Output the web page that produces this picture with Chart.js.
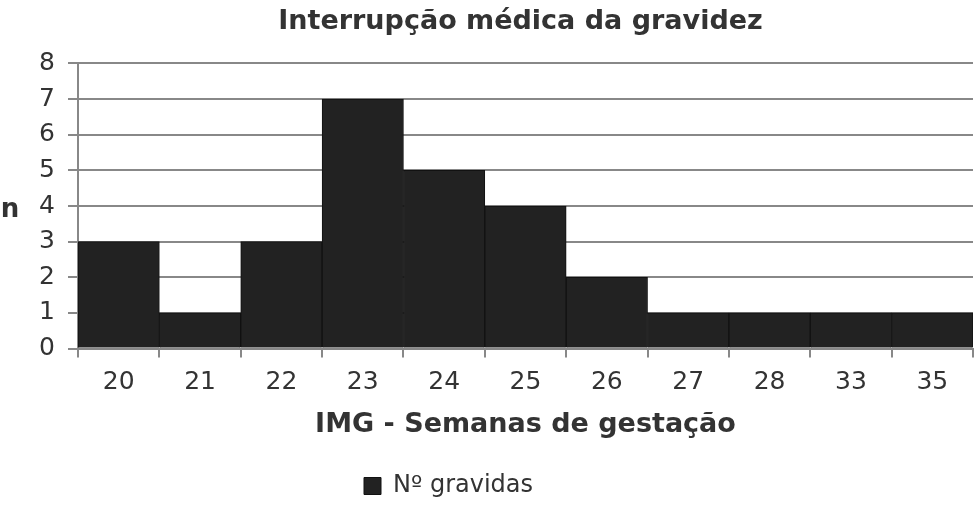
<!DOCTYPE html>
<html>
<head>
<meta charset="utf-8">
<script src="https://cdn.jsdelivr.net/npm/chart.js@4.4.0/dist/chart.umd.min.js"></script>
<style>
  html, body { margin: 0; padding: 0; background: #fff; }
  #wrap { width: 975px; height: 508px; }
</style>
</head>
<body>
<div id="wrap"><canvas id="chart"></canvas></div>
<script>
// Dados
const semanas = ['20', '21', '22', '23', '24', '25', '26', '27', '28', '33', '35'];
const gravidas = [3, 1, 3, 7, 5, 4, 2, 1, 1, 1, 1];
const yTicks = [0, 1, 2, 3, 4, 5, 6, 7, 8];

const FONT = '"DejaVu Sans", Verdana, sans-serif';

// título centrado sobre a área do gráfico, legenda deslocada, "n" na horizontal
const extras = {
  id: 'extras',
  afterLayout(chart) {
    const tb = chart.titleBlock;
    tb.left += 34;
    tb.right += 34;
    const lg = chart.legend;
    const w = lg.right - lg.left;
    lg.left = 359;
    lg.right = 359 + w;
  },
  afterDraw(chart) {
    const ctx = chart.ctx;
    const area = chart.chartArea;
    ctx.save();
    ctx.fillStyle = '#333';
    ctx.font = 'bold 26px ' + FONT;
    ctx.textAlign = 'center';
    ctx.textBaseline = 'middle';
    ctx.fillText('n', 10, (area.top + area.bottom) / 2 + 4);
    ctx.restore();
  }
};

new Chart(document.getElementById('chart').getContext('2d'), {
  type: 'bar',
  data: {
    labels: semanas,
    datasets: [{
      label: 'Nº gravidas',
      data: gravidas,
      backgroundColor: '#222222',
      borderColor: '#111111',
      borderWidth: 1,
      barPercentage: 1,
      categoryPercentage: 1,
    }]
  },
  options: {
    responsive: true,
    maintainAspectRatio: false,
    animation: false,
    layout: { padding: { left: 0, right: 2, top: 0, bottom: 0 } },
    plugins: {
      title: {
        display: true,
        text: 'Interrupção médica da gravidez',
        color: '#333',
        font: { family: FONT, size: 27, weight: 'bold' },
        padding: { top: 6, bottom: 25 }
      },
      legend: {
        position: 'bottom',
        align: 'start',
        labels: {
          color: '#333',
          font: { family: FONT, size: 24 },
          boxWidth: 17,
          boxHeight: 17,
          padding: 5
        }
      },
      tooltip: { enabled: false }
    },
    scales: {
      x: {
        offset: true,
        grid: {
          offset: true,
          drawOnChartArea: false,
          color: '#888',
          lineWidth: 2,
          tickLength: 9
        },
        border: { display: true, color: '#888', width: 2 },
        ticks: {
          color: '#333',
          font: { family: FONT, size: 25 },
          padding: 10,
          maxRotation: 0
        },
        title: {
          display: true,
          text: 'IMG - Semanas de gestação',
          color: '#333',
          font: { family: FONT, size: 27, weight: 'bold' },
          padding: { top: 1, bottom: 28 }
        }
      },
      y: {
        min: yTicks[0],
        max: yTicks[yTicks.length - 1],
        afterBuildTicks(scale) {
          scale.ticks = yTicks.map(v => ({ value: v }));
        },
        afterFit(scale) {
          scale.width = 78;
        },
        grid: {
          color: '#888',
          lineWidth: 2,
          tickLength: 10
        },
        border: { display: true, color: '#888', width: 2 },
        ticks: {
          color: '#333',
          font: { family: FONT, size: 25 },
          padding: 13
        }
      }
    }
  },
  plugins: [extras]
});
</script>
</body>
</html>
